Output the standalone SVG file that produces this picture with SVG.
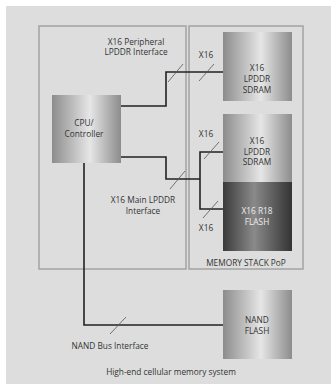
<svg xmlns="http://www.w3.org/2000/svg" width="331" height="384" viewBox="0 0 331 384">
<defs>
<linearGradient id="gLight" x1="0" y1="0" x2="1" y2="0">
<stop offset="0" stop-color="#8c8c8c"/>
<stop offset="0.55" stop-color="#e6e6e6"/>
<stop offset="1" stop-color="#8c8c8c"/>
</linearGradient>
<linearGradient id="gDark" x1="0" y1="0" x2="1" y2="0">
<stop offset="0" stop-color="#3a3a3a"/>
<stop offset="0.45" stop-color="#8a8a8a"/>
<stop offset="1" stop-color="#333333"/>
</linearGradient>
<style>
text{font-family:"Open Sans","Noto Sans",sans-serif;font-size:8.3px;fill:#333;text-anchor:middle}
.wt{fill:#eeeeee}
.frame{fill:none;stroke:#a3a3a3;stroke-width:1.5}
.bus{fill:none;stroke:#222;stroke-width:1.6}
.tick{fill:none;stroke:#555;stroke-width:0.8}
</style>
</defs>
<rect x="0" y="0" width="331" height="384" fill="#ffffff"/>
<rect x="6" y="6" width="325" height="378" fill="#dddddd"/>
<g id="soc-frame"><rect class="frame" x="39" y="26" width="147" height="243"/></g>
<g id="memory-stack-pop"><rect class="frame" x="189" y="26" width="114" height="243"/>
<text x="246" y="266">MEMORY STACK PoP</text></g>
<g id="connectors">
<polyline class="bus" points="121,106 166,106 166,72 223,72"/>
<polyline class="bus" points="121,157 166,157 166,179 200,179"/>
<polyline class="bus" points="223,152 200,152 200,209 223,209"/>
<polyline class="bus" points="84,163 84,325 223,325"/>
<line class="tick" x1="168" y1="82" x2="183" y2="64"/>
<line class="tick" x1="199" y1="81" x2="214" y2="64"/>
<line class="tick" x1="170" y1="189" x2="185" y2="171"/>
<line class="tick" x1="204" y1="159" x2="219" y2="142"/>
<line class="tick" x1="203" y1="218" x2="218" y2="201"/>
<line class="tick" x1="110" y1="334" x2="126" y2="317"/>
</g>
<g id="labels">
<text x="136" y="45">X16 Peripheral</text>
<text x="136" y="55">LPDDR Interface</text>
<text x="206" y="58">X16</text>
<text x="206" y="137">X16</text>
<text x="206" y="231">X16</text>
<text x="143" y="203">X16 Main LPDDR</text>
<text x="143" y="214">Interface</text>
<text x="110" y="349">NAND Bus Interface</text>
<text x="171" y="375">High-end cellular memory system</text>
</g>
<g id="cpu">
<rect x="52" y="95" width="69" height="68" fill="url(#gLight)"/>
<text x="84" y="126">CPU/</text>
<text x="84" y="137">Controller</text>
</g>
<g id="sdram-peripheral">
<rect x="223" y="32" width="69" height="69" fill="url(#gLight)"/>
<text x="257" y="71">X16</text>
<text x="257" y="82">LPDDR</text>
<text x="257" y="93">SDRAM</text>
</g>
<g id="sdram-main">
<rect x="223" y="114" width="69" height="68" fill="url(#gLight)"/>
<text x="257" y="144">X16</text>
<text x="257" y="155">LPDDR</text>
<text x="257" y="165">SDRAM</text>
</g>
<g id="flash-r18">
<rect x="223" y="182" width="69" height="69" fill="url(#gDark)"/>
<text class="wt" x="257" y="214">X16 R18</text>
<text class="wt" x="257" y="225">FLASH</text>
</g>
<g id="nand-flash">
<rect x="223" y="290" width="69" height="69" fill="url(#gLight)"/>
<text x="257" y="323">NAND</text>
<text x="257" y="334">FLASH</text>
</g>
</svg>
